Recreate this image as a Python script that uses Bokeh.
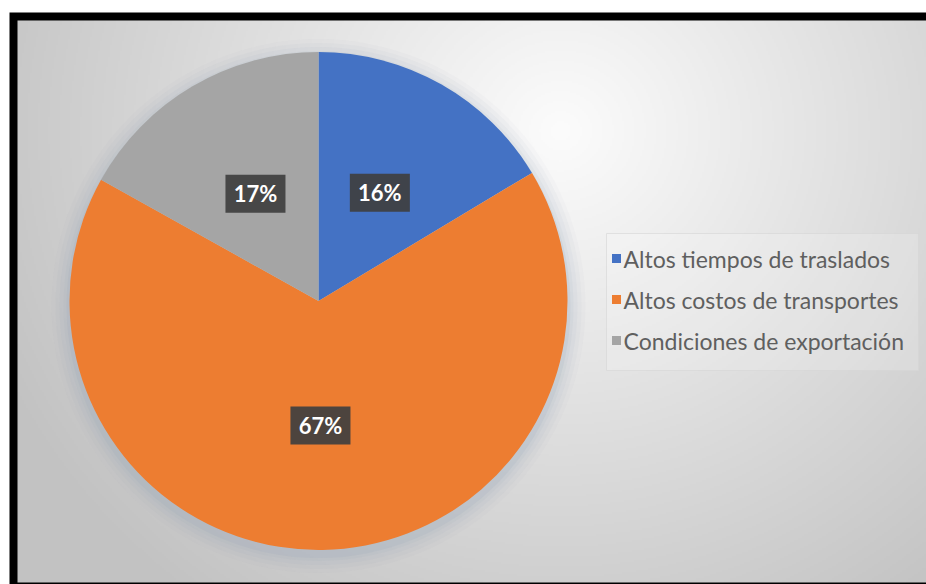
import numpy as np
from bokeh.plotting import figure
from bokeh.models import Range1d
from bokeh.core.properties import value
from bokeh.embed import file_html
from bokeh.resources import INLINE

# ---- data ----
categories = ["Altos tiempos de traslados", "Altos costos de transportes", "Condiciones de exportación"]
shares = [16.4, 66.7, 16.9]
labels = ["16%", "67%", "17%"]
colors = ["#4472C4", "#ED7D31", "#A5A5A5"]

W, H = 926, 584
p = figure(width=W, height=H, x_range=Range1d(0, W), y_range=Range1d(0, H),
           output_backend="svg", toolbar_location=None, min_border=0)
p.axis.visible = False
p.grid.visible = False
p.outline_line_color = None
p.background_fill_color = "white"
p.border_fill_color = "white"

# frame (black border)
p.quad(left=[9], right=[W], bottom=[0], top=[572], fill_color="black", line_color=None)

# gradient background
gx0, gx1, gy0, gy1 = 17, W, 2, 564
nx, ny = (gx1 - gx0) // 2, (gy1 - gy0) // 2
xs = np.linspace(gx0, gx1, nx)
ys = np.linspace(gy0, gy1, ny)
X, Y = np.meshgrid(xs, ys)
cx, cy = 560, 454
d = np.sqrt((X - cx) ** 2 + ((Y - cy) * 1.05) ** 2)
v = 252 - 58 * np.clip(d / 620, 0, 1)
v = v.astype(np.uint32)
img = (255 << 24) | (v << 16) | (v << 8) | v
p.image_rgba(image=[img.astype(np.uint32)], x=gx0, y=gy0, dw=gx1 - gx0, dh=gy1 - gy0)

# pie
pcx, pcy, R = 318, 283.5, 249
# soft shadow
for k, a in [(18, 0.04), (14, 0.05), (10, 0.06), (6, 0.08), (3, 0.12)]:
    p.circle(x=[pcx], y=[pcy - 5], radius=R + k, fill_color="#8fa0b4", fill_alpha=a, line_color=None)

total = sum(shares)
start = np.pi / 2
mids = []
for s, c in zip(shares, colors):
    sweep = 2 * np.pi * s / total
    end = start - sweep
    p.wedge(x=[pcx], y=[pcy], radius=R, start_angle=[end], end_angle=[start],
            fill_color=c, line_color=None)
    mids.append((start + end) / 2)
    start = end

# data labels
lx = [pcx + 0.5 * R * np.cos(m) for m in mids]
ly = [pcy + 0.5 * R * np.sin(m) for m in mids]
p.rect(x=lx, y=ly, width=60, height=38, fill_color="#3f3f3f", fill_alpha=0.92, line_color=None)
p.text(x=lx, y=ly, text=labels, text_color="white", text_font=value("Lato"),
       text_font_style="bold", text_font_size="22px", text_align="center", text_baseline="middle")

# legend
p.quad(left=[606], right=[918], bottom=[214], top=[351], fill_color="white", fill_alpha=0.18,
       line_color="#d6d6d6", line_alpha=0.6)
leg_y = [326, 285, 244]
p.rect(x=[616] * 3, y=leg_y, width=9, height=9, fill_color=colors, line_color=None)
p.text(x=[623] * 3, y=leg_y, text=categories, text_color="#5f5f5f", text_font=value("Lato"),
       text_font_size="23px", text_align="left", text_baseline="middle")

open("out.html", "w").write(file_html(p, INLINE))
